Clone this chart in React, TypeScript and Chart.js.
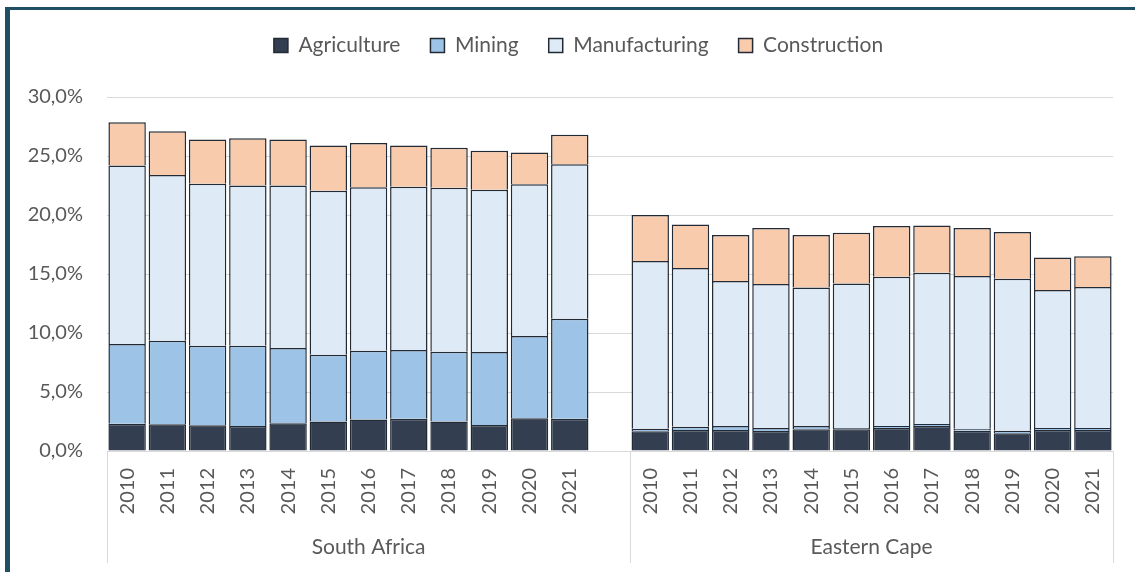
import React, { useEffect, useRef } from 'react';
import { Chart, registerables } from 'chart.js';

Chart.register(...registerables);

// ---------- data ----------
const years = ['2010', '2011', '2012', '2013', '2014', '2015', '2016', '2017', '2018', '2019', '2020', '2021'];
const regions = ['South Africa', 'Eastern Cape'];
const seriesNames = ['Agriculture', 'Mining', 'Manufacturing', 'Construction'];

const saAgriculture = [2.31, 2.26, 2.18, 2.12, 2.35, 2.49, 2.66, 2.74, 2.49, 2.2, 2.77, 2.74];
const saMining = [6.76, 7.09, 6.75, 6.81, 6.38, 5.67, 5.84, 5.82, 5.93, 6.19, 6.98, 8.46];
const saManufacturing = [15.13, 14.05, 13.72, 13.57, 13.77, 13.9, 13.85, 13.84, 13.88, 13.76, 12.85, 13.1];
const saConstruction = [3.66, 3.7, 3.75, 4.0, 3.9, 3.84, 3.75, 3.5, 3.4, 3.3, 2.7, 2.5];

const ecAgriculture = [1.67, 1.78, 1.78, 1.69, 1.84, 1.84, 1.95, 2.12, 1.72, 1.5, 1.78, 1.78];
const ecMining = [0.22, 0.28, 0.34, 0.26, 0.28, 0.11, 0.17, 0.17, 0.17, 0.22, 0.17, 0.17];
const ecManufacturing = [14.21, 13.44, 12.28, 12.2, 11.73, 12.25, 12.65, 12.81, 12.94, 12.88, 11.69, 11.95];
const ecConstruction = [3.9, 3.7, 3.9, 4.75, 4.45, 4.3, 4.3, 4.0, 4.07, 3.96, 2.76, 2.6];

const yTicks = [0, 5, 10, 15, 20, 25, 30];

// ---------- styles ----------
const seriesColors = ['#333F50', '#9DC3E6', '#DEEBF7', '#F8CBAD'];
const barBorder = '#222A35';
const textColor = '#595959';
const gridColor = '#D9D9D9';
const frameColor = '#1E4F64';
const FONT = 'Lato, "Open Sans", "Liberation Sans", sans-serif';

const labels = [...years, '', ...years];
const join = (a: number[], b: number[]) => [...a, null, ...b];
const seriesData = [
  join(saAgriculture, ecAgriculture),
  join(saMining, ecMining),
  join(saManufacturing, ecManufacturing),
  join(saConstruction, ecConstruction),
];

const groupAxisPlugin = {
  id: 'groupAxis',
  afterDraw(chart: any) {
    const x = chart.scales.x;
    const ctx = chart.ctx;
    const slot = x.getPixelForValue(1) - x.getPixelForValue(0);
    const edges = [
      x.getPixelForValue(0) - slot / 2,
      x.getPixelForValue(years.length + 1) - slot / 2,
      x.getPixelForValue(labels.length - 1) + slot / 2,
    ];
    const top = chart.chartArea.bottom;
    ctx.save();
    ctx.strokeStyle = gridColor;
    ctx.lineWidth = 1;
    edges.forEach((e) => {
      const px = Math.round(e) + 0.5;
      ctx.beginPath();
      ctx.moveTo(px, top);
      ctx.lineTo(px, 563);
      ctx.stroke();
    });
    ctx.fillStyle = textColor;
    ctx.font = `21px ${FONT}`;
    ctx.textAlign = 'center';
    ctx.textBaseline = 'middle';
    regions.forEach((r, i) => {
      ctx.fillText(r, (edges[i] + edges[i + 1]) / 2, 547);
    });
    ctx.restore();
  },
};

const legendFitPlugin = {
  id: 'legendFit',
  afterInit(chart: any) {
    const lg = chart.legend;
    if (!lg) return;
    const orig = lg.fit.bind(lg);
    lg.fit = function () {
      orig();
      this.height = 92;
    };
  },
  afterLayout(chart: any) {
    const lg = chart.legend;
    if (!lg) return;
    lg.left += 22;
    lg.right += 22;
  },
};

export default function App() {
  const ref = useRef<HTMLCanvasElement | null>(null);

  useEffect(() => {
    if (!ref.current) return;
    const chart = new Chart(ref.current, {
      type: 'bar',
      data: {
        labels,
        datasets: seriesNames.map((name, i) => ({
          label: name,
          data: seriesData[i],
          backgroundColor: seriesColors[i],
          borderColor: barBorder,
          borderWidth: 1.5,
          barPercentage: 0.93,
          categoryPercentage: 1,
        })),
      },
      options: {
        responsive: false,
        animation: false,
        maintainAspectRatio: false,
        layout: { padding: { top: 5, left: 0, right: 22, bottom: 0 } },
        plugins: {
          legend: {
            display: true,
            position: 'top',
            labels: {
              boxWidth: 14,
              boxHeight: 14,
              padding: 30,
              color: textColor,
              font: { family: FONT, size: 21 },
            },
          },
          tooltip: { enabled: false },
          title: { display: false },
        },
        scales: {
          x: {
            stacked: true,
            grid: { display: false, drawTicks: false },
            border: { display: true, color: gridColor, width: 1 },
            ticks: {
              autoSkip: false,
              maxRotation: 90,
              minRotation: 90,
              padding: 17,
              color: textColor,
              font: { family: FONT, size: 20 },
            },
            afterFit(scale: any) {
              scale.height = 121;
            },
          },
          y: {
            stacked: true,
            min: 0,
            max: 30,
            afterBuildTicks(scale: any) {
              scale.ticks = yTicks.map((v) => ({ value: v }));
            },
            grid: { color: gridColor, lineWidth: 1, drawTicks: false },
            border: { display: false },
            ticks: {
              padding: 24,
              color: textColor,
              font: { family: FONT, size: 20 },
              callback: (v: any) => Number(v).toFixed(1).replace('.', ',') + '%',
            },
            afterFit(scale: any) {
              scale.width = 107;
            },
          },
        },
      },
      plugins: [groupAxisPlugin, legendFitPlugin],
    });
    return () => chart.destroy();
  }, []);

  return (
    <div style={{ position: 'fixed', left: 0, top: 0, width: 1135, height: 572, background: '#fff' }}>
      <canvas ref={ref} width={1135} height={572} style={{ position: 'absolute', left: 0, top: 0 }} />
      <div style={{ position: 'absolute', left: 5, top: 7, width: 5, height: 565, background: frameColor }} />
      <div style={{ position: 'absolute', left: 5, top: 7, width: 1130, height: 3, background: frameColor }} />
    </div>
  );
}
